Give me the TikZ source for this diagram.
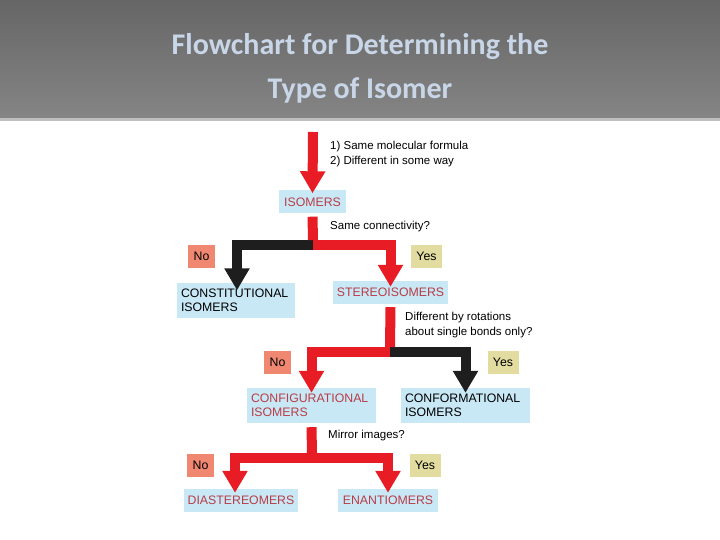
\documentclass[tikz,border=0pt]{standalone}
\usepackage{fontspec}
\setmainfont{Liberation Sans}
\newfontfamily\titlefont{Carlito}
\usetikzlibrary{arrows.meta}
\definecolor{boxblue}{RGB}{200,232,246}
\definecolor{noc}{RGB}{240,135,112}
\definecolor{yesc}{RGB}{226,220,160}
\definecolor{redtxt}{RGB}{185,60,70}
\definecolor{arrred}{RGB}{232,28,36}
\definecolor{arrblk}{RGB}{30,30,30}
\definecolor{titlec}{RGB}{200,214,232}
\tikzset{
 box/.style={fill=boxblue,inner sep=0pt,minimum height=23pt,font=\fontsize{12.3}{13}\selectfont},
 tbox/.style={fill=boxblue,inner xsep=4pt,inner ysep=0pt,minimum height=35pt,align=left,font=\fontsize{12.3}{14}\selectfont},
 nobox/.style={fill=noc,minimum width=27pt,minimum height=23pt,inner sep=0pt,font=\fontsize{12.3}{13}\selectfont},
 yesbox/.style={fill=yesc,minimum width=31pt,minimum height=23pt,inner sep=0pt,font=\fontsize{12.3}{13}\selectfont},
 q/.style={anchor=west,align=left,font=\fontsize{11.5}{14.5}\selectfont,inner sep=0pt},
 fl/.style={line width=10pt,line cap=butt,line join=miter},
 hd/.style={-{Triangle[width=24pt,length=22pt]}},
}
\begin{document}
\begin{tikzpicture}[x=1pt,y=-1pt]
\useasboundingbox (0,0) rectangle (720,540);
\fill[white] (0,0) rectangle (720,540);
\shade[top color=black!60,bottom color=black!48] (0,0) rectangle (720,118);
\fill[black!25] (0,118) rectangle (720,121);
\node[font=\titlefont\bfseries\fontsize{30}{44}\selectfont,text=titlec,align=center] (title) at (360,68) {Flowchart for Determining the\\Type of Isomer};

% nodes
\node[q] (q0) at (330,154) {1) Same molecular formula\\2) Different in some way};
\node[box,minimum width=67pt,text=redtxt] (iso) at (312.5,202) {ISOMERS};
\node[q] (q1) at (330,227) {Same connectivity?};
\node[nobox] (no1) at (201.5,256) {No};
\node[yesbox] (yes1) at (426.5,256) {Yes};
\node[tbox,text width=110pt] (con) at (236,300) {CONSTITUTIONAL\\ISOMERS};
\node[box,minimum width=115pt,text=redtxt] (ste) at (390.5,292.5) {STEREOISOMERS};
\node[q] (q2) at (405,325) {Different by rotations\\about single bonds only?};
\node[nobox] (no2) at (277.5,362.5) {No};
\node[yesbox] (yes2) at (503,362.5) {Yes};
\node[tbox,text width=121pt,text=redtxt] (cfg) at (311.5,405.5) {CONFIGURATIONAL\\ISOMERS};
\node[tbox,text width=121pt] (cfm) at (465.5,405.5) {CONFORMATIONAL\\ISOMERS};
\node[q] (q3) at (328,436) {Mirror images?};
\node[nobox] (no3) at (200.5,465) {No};
\node[yesbox] (yes3) at (425,465) {Yes};
\node[box,minimum width=114pt,text=redtxt] (dia) at (241,500.5) {DIASTEREOMERS};
\node[box,minimum width=100pt,text=redtxt] (ena) at (388,500.5) {ENANTIOMERS};

% junctions
\coordinate (top) at (313,132);
\coordinate (j1) at (313,245);
\coordinate (j2) at (390,352);
\coordinate (j3) at (312,458);

\draw[fl,hd,arrred] (top) -- ([yshift=-3pt]iso.north);
\draw[fl,hd,arrblk] (j1) -| ([yshift=-8pt]con.north -| 237,0);
\draw[fl,arrred] ([yshift=-3pt]iso.south) -- ([yshift=5pt]j1);
\draw[fl,hd,arrred] ([xshift=-0.1pt]j1) -| ([yshift=-6pt]ste.north);
\draw[fl,hd,arrblk] (j2) -| ([yshift=-5pt]cfm.north);
\draw[fl,arrred] ([yshift=-3pt]ste.south) -- ([yshift=5pt]j2);
\draw[fl,hd,arrred] ([xshift=0.1pt]j2) -| ([yshift=-5pt]cfg.north);
\draw[fl,arrred] ([yshift=-4pt]cfg.south) -- ([yshift=5pt]j3);
\draw[fl,hd,arrred] (j3) -| ([xshift=-6pt,yshift=-4pt]dia.north);
\draw[fl,hd,arrred] (j3) -| ([yshift=-4pt]ena.north);
\end{tikzpicture}
\end{document}
